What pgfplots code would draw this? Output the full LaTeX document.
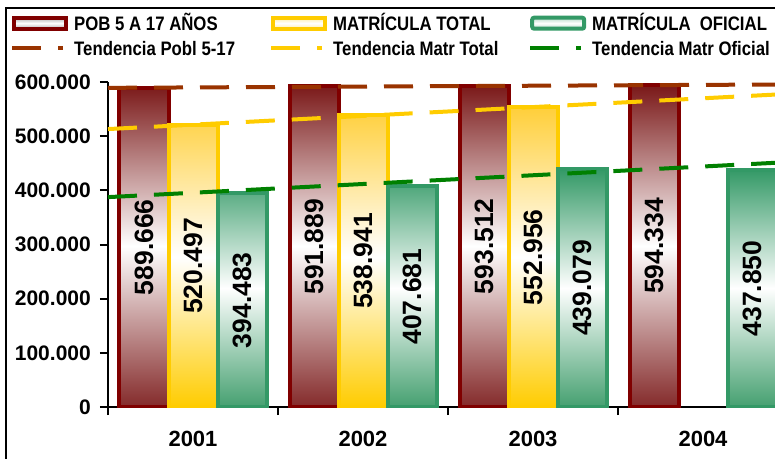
\documentclass[border=0pt]{standalone}
\usepackage{fontspec}
\setmainfont{Liberation Sans}
\newfontfamily\legfont{Liberation Sans}[FakeStretch=0.86]
\usepackage{graphicx}
\usepackage{pgfplots}
\pgfplotsset{compat=1.18}

\definecolor{pobred}{HTML}{800000}
\definecolor{pobtop}{HTML}{7A1818}
\definecolor{pobbot}{HTML}{842A2A}
\definecolor{mtyel}{HTML}{FFCC00}
\definecolor{mttop}{HTML}{FFCF3A}
\definecolor{mogrn}{HTML}{339966}
\definecolor{motop}{HTML}{339966}
\definecolor{mobot}{HTML}{45A070}
\definecolor{tpob}{HTML}{993300}
\definecolor{tmt}{HTML}{FFCC00}
\definecolor{tmo}{HTML}{008000}

\newcommand\barlab{\rotatebox{90}{\fontsize{26.5}{26.5}\selectfont\bfseries\pgfmathprintnumber{\pgfplotspointmeta}}}

\begin{document}
\begin{tikzpicture}
\useasboundingbox (-108pt,-51pt) rectangle (667pt,407pt);
\begin{axis}[
  scale only axis,
  width=667pt, height=325pt,
  xmin=0.5, xmax=4.4235,
  ymin=0, ymax=600000,
  axis lines*=left,
  axis line style={line width=2pt},
  ytick={0,100000,...,600000},
  scaled y ticks=false,
  /pgf/number format/fixed,
  /pgf/number format/precision=0,
  /pgf/number format/1000 sep={.},
  /pgf/number format/assume math mode=true,
  tick align=outside,
  major tick length=8pt,
  tick style={line width=2pt, black},
  yticklabel style={font=\fontsize{21}{21}\selectfont\bfseries, inner sep=0pt, xshift=-9pt},
  xtick={0.5,1.5,2.5,3.5}, xticklabels={},
  extra x ticks={1,2,3,4},
  extra x tick labels={2001,2002,2003,2004},
  extra x tick style={major tick length=0pt,
    xticklabel style={font=\fontsize{22}{22}\selectfont\bfseries, anchor=north, inner sep=0pt, yshift=-24pt}},
  visualization depends on={y \as \rawy},
  nodes near coords style={black, anchor=center, inner sep=0pt},
  legend columns=3,
  legend style={at={(axis description cs:-0.14693,1.21231)}, anchor=north west,
    draw=none, fill=none, inner sep=0pt,
    font=\legfont\bfseries\fontsize{19.5}{19.5}\selectfont,
    cells={anchor=west},
    nodes={inner sep=0pt, text height=17pt, text depth=3pt},
    /tikz/every odd column/.append style={column sep=6pt},
    row sep=5pt},
]
\addplot[ybar, bar width=49pt, bar shift=-49pt, draw=pobred, line width=4pt,
  top color=pobtop, bottom color=pobbot, middle color=white,
  nodes near coords={\barlab},
  every node near coord/.append style={shift={(axis direction cs:0,-\rawy/2)}, xshift=-49pt},
  legend image code/.code={\draw[draw=pobred, line width=4pt, top color=black!30, bottom color=black!30, middle color=white] (2pt,-5.5pt) rectangle (54pt,5.5pt);}]
  coordinates {(1,589666) (2,591889) (3,593512) (4,594334)};
\addplot[ybar, bar width=49pt, bar shift=0pt, draw=mtyel, line width=4pt,
  top color=mttop, bottom color=mtyel, middle color=white,
  nodes near coords={\barlab},
  every node near coord/.append style={shift={(axis direction cs:0,-\rawy/2)}},
  legend image code/.code={\draw[draw=mtyel, line width=4pt, top color=mtyel!35, bottom color=mtyel!35, middle color=white] (2pt,-5.5pt) rectangle (54pt,5.5pt);}]
  coordinates {(1,520497) (2,538941) (3,552956)};
\addplot[ybar, bar width=49pt, bar shift=49pt, draw=mogrn, line width=4pt,
  top color=motop, bottom color=mobot, middle color=white,
  nodes near coords={\barlab},
  every node near coord/.append style={shift={(axis direction cs:0,-\rawy/2)}, xshift=49pt},
  legend image code/.code={\draw[draw=mogrn, line width=4pt, rounded corners=2pt, top color=mogrn!35, bottom color=mogrn!35, middle color=white] (2pt,-5.5pt) rectangle (54pt,5.5pt);}]
  coordinates {(1,394483) (2,407681) (3,439079) (4,437850)};
\addplot[tpob, line width=4pt, dash pattern=on 29pt off 17pt,
  legend image code/.code={\draw[tpob, line width=4pt, dash pattern=on 29pt off 17pt] (0pt,0pt) -- (51pt,0pt);}]
  coordinates {(0.5,589225) (4.5,595476)};
\addplot[tmt, line width=4pt, dash pattern=on 29pt off 17pt,
  legend image code/.code={\draw[tmt, line width=4pt, dash pattern=on 29pt off 17pt] (0pt,0pt) -- (51pt,0pt);}]
  coordinates {(0.5,513121) (4.5,578039)};
\addplot[tmo, line width=4pt, dash pattern=on 29pt off 17pt,
  legend image code/.code={\draw[tmo, line width=4pt, dash pattern=on 29pt off 17pt] (0pt,0pt) -- (51pt,0pt);}]
  coordinates {(0.5,387473) (4.5,452073)};
\legend{\makebox[195pt][l]{POB 5 A 17 AÑOS},\makebox[195pt][l]{MATRÍCULA TOTAL},MATRÍCULA\ \ OFICIAL,
  \makebox[195pt][l]{Tendencia Pobl 5-17},\makebox[195pt][l]{Tendencia Matr Total},Tendencia Matr Oficial}
\end{axis}
\draw[line width=2pt] (-102pt,-60pt) -- (-102pt,399pt) -- (690pt,399pt);
\end{tikzpicture}
\end{document}
